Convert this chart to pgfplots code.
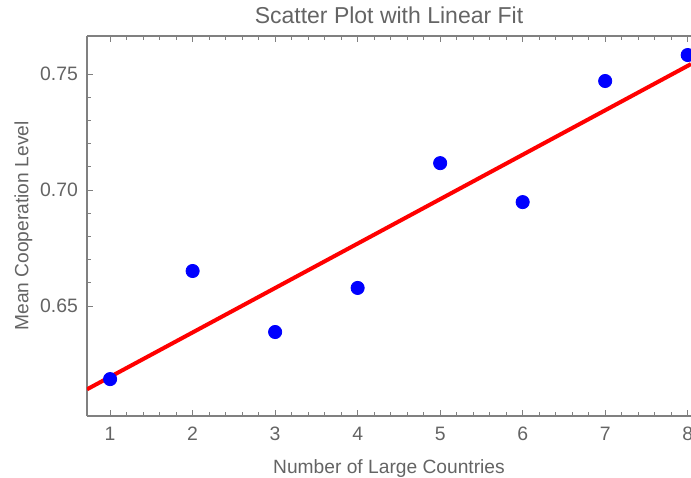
\documentclass[border=0pt]{standalone}
\usepackage{pgfplots}
\pgfplotsset{compat=1.18}
\usepackage{fontspec}
\setmainfont{Liberation Sans}
\definecolor{txtgray}{RGB}{100,100,100}
\definecolor{axgray}{RGB}{128,128,128}
\begin{document}
\begin{tikzpicture}
\begin{axis}[
    name=a,
    scale only axis,
    width=302pt, height=190pt,
    xmin=0.72, xmax=8.04,
    ymin=0.6026, ymax=0.7664,
    axis x line=box, axis y line=left,
    axis line style={axgray, line width=0.6pt, -},
    x axis line style={-}, y axis line style={-},
    tick align=inside,
    major tick length=3pt, minor tick length=1.8pt,
    every tick/.style={axgray, line width=0.5pt},
    xtick={1,2,3,4,5,6,7,8},
    ytick={0.65,0.70,0.75},
    minor x tick num=4, minor y tick num=4,
    yticklabel style={/pgf/number format/fixed, /pgf/number format/fixed zerofill, /pgf/number format/precision=2},
    /pgf/number format/assume math mode=true,
    ticklabel style={font=\fontsize{9.7}{11}\selectfont, text=txtgray},
    xticklabel style={yshift=-2pt},
    yticklabel style={xshift=-1pt},
    title={Scatter Plot with Linear Fit},
    title style={font=\fontsize{11.5}{13}\selectfont, text=txtgray, yshift=-3.5pt},
    xlabel={Number of Large Countries},
    ylabel={Mean Cooperation Level},
    label style={font=\fontsize{9.6}{11}\selectfont, text=txtgray},
    xlabel style={yshift=-2.5pt},
    ylabel style={yshift=-3pt},
    clip marker paths=true,
]
\addplot[red, line width=2pt] coordinates {(0.72,0.6141) (8.04,0.7543)};
\addplot[only marks, mark=*, mark size=3.3pt, blue, mark options={draw=blue, fill=blue}] coordinates {
    (1,0.6185) (2,0.6651) (3,0.6388) (4,0.6578)
    (5,0.7116) (6,0.6948) (7,0.7470) (8,0.7582)
};
\end{axis}
\pgfresetboundingbox
\path ([xshift=-43.5pt,yshift=-30.5pt]a.south west) rectangle ([yshift=18pt]a.north east);
\end{tikzpicture}
\end{document}
